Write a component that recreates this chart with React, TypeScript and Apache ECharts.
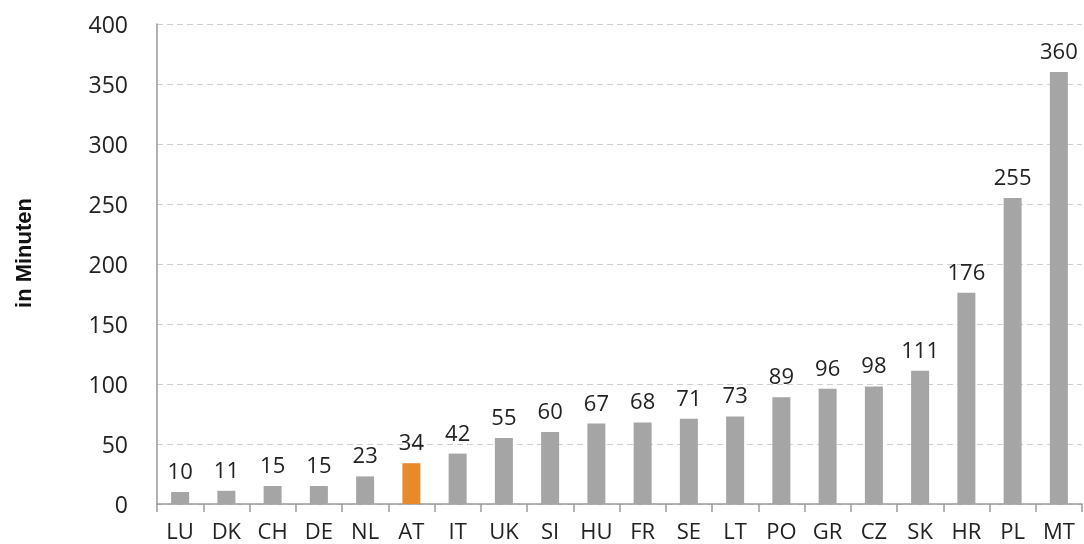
import React, { useEffect, useRef } from "react";
import * as echarts from "echarts";

const categories = ["LU", "DK", "CH", "DE", "NL", "AT", "IT", "UK", "SI", "HU", "FR", "SE", "LT", "PO", "GR", "CZ", "SK", "HR", "PL", "MT"];
const values = [10, 11, 15, 15, 23, 34, 42, 55, 60, 67, 68, 71, 73, 89, 96, 98, 111, 176, 255, 360];
const highlight = "AT";
const yTicks = { min: 0, max: 400, interval: 50 };
const axisName = "in Minuten";

const GRAY = "#a5a5a5";
const ORANGE = "#e8892b";
const FONT = "'Open Sans', sans-serif";

export default function App() {
  const ref = useRef<HTMLDivElement>(null);
  useEffect(() => {
    if (!ref.current) return;
    const chart = echarts.init(ref.current, null, { renderer: "svg" });
    chart.setOption({
      animation: false,
      grid: { left: 157, right: 2, top: 24, bottom: 40, containLabel: false, outerBoundsMode: "none" },
      xAxis: {
        type: "category",
        data: categories,
        axisLine: { lineStyle: { color: "#9a9a9a", width: 1.5 } },
        axisTick: { show: true, length: 8, alignWithLabel: false, lineStyle: { color: "#9a9a9a", width: 1.5 } },
        axisLabel: { color: "#222", fontSize: 22, fontFamily: FONT, margin: 15, interval: 0 },
      },
      yAxis: {
        type: "value",
        min: yTicks.min,
        max: yTicks.max,
        interval: yTicks.interval,
        name: axisName,
        nameLocation: "middle",
        nameGap: 123,
        nameMoveOverlap: false,
        nameTextStyle: { fontFamily: "'Liberation Sans Narrow', 'Liberation Sans', sans-serif", fontWeight: "bold", fontSize: 22, color: "#111", padding: [0, 0, 0, 22] },
        axisLine: { show: true, lineStyle: { color: "#9a9a9a", width: 1.5 } },
        axisTick: { show: false },
        axisLabel: { color: "#222", fontSize: 23, fontFamily: FONT, margin: 29 },
        splitLine: { lineStyle: { color: "#cfcfcf", type: [6, 4], width: 1 } },
      },
      series: [
        {
          type: "bar",
          barWidth: 18,
          data: values.map((v, i) => ({
            value: v,
            itemStyle: { color: categories[i] === highlight ? ORANGE : GRAY },
          })),
          label: {
            show: true,
            position: "top",
            distance: 11,
            color: "#222",
            fontSize: 22,
            fontFamily: FONT,
          },
        },
      ],
    });
    return () => chart.dispose();
  }, []);
  return <div ref={ref} style={{ position: "fixed", left: 0, top: 0, width: 1084, height: 544 }} />;
}
